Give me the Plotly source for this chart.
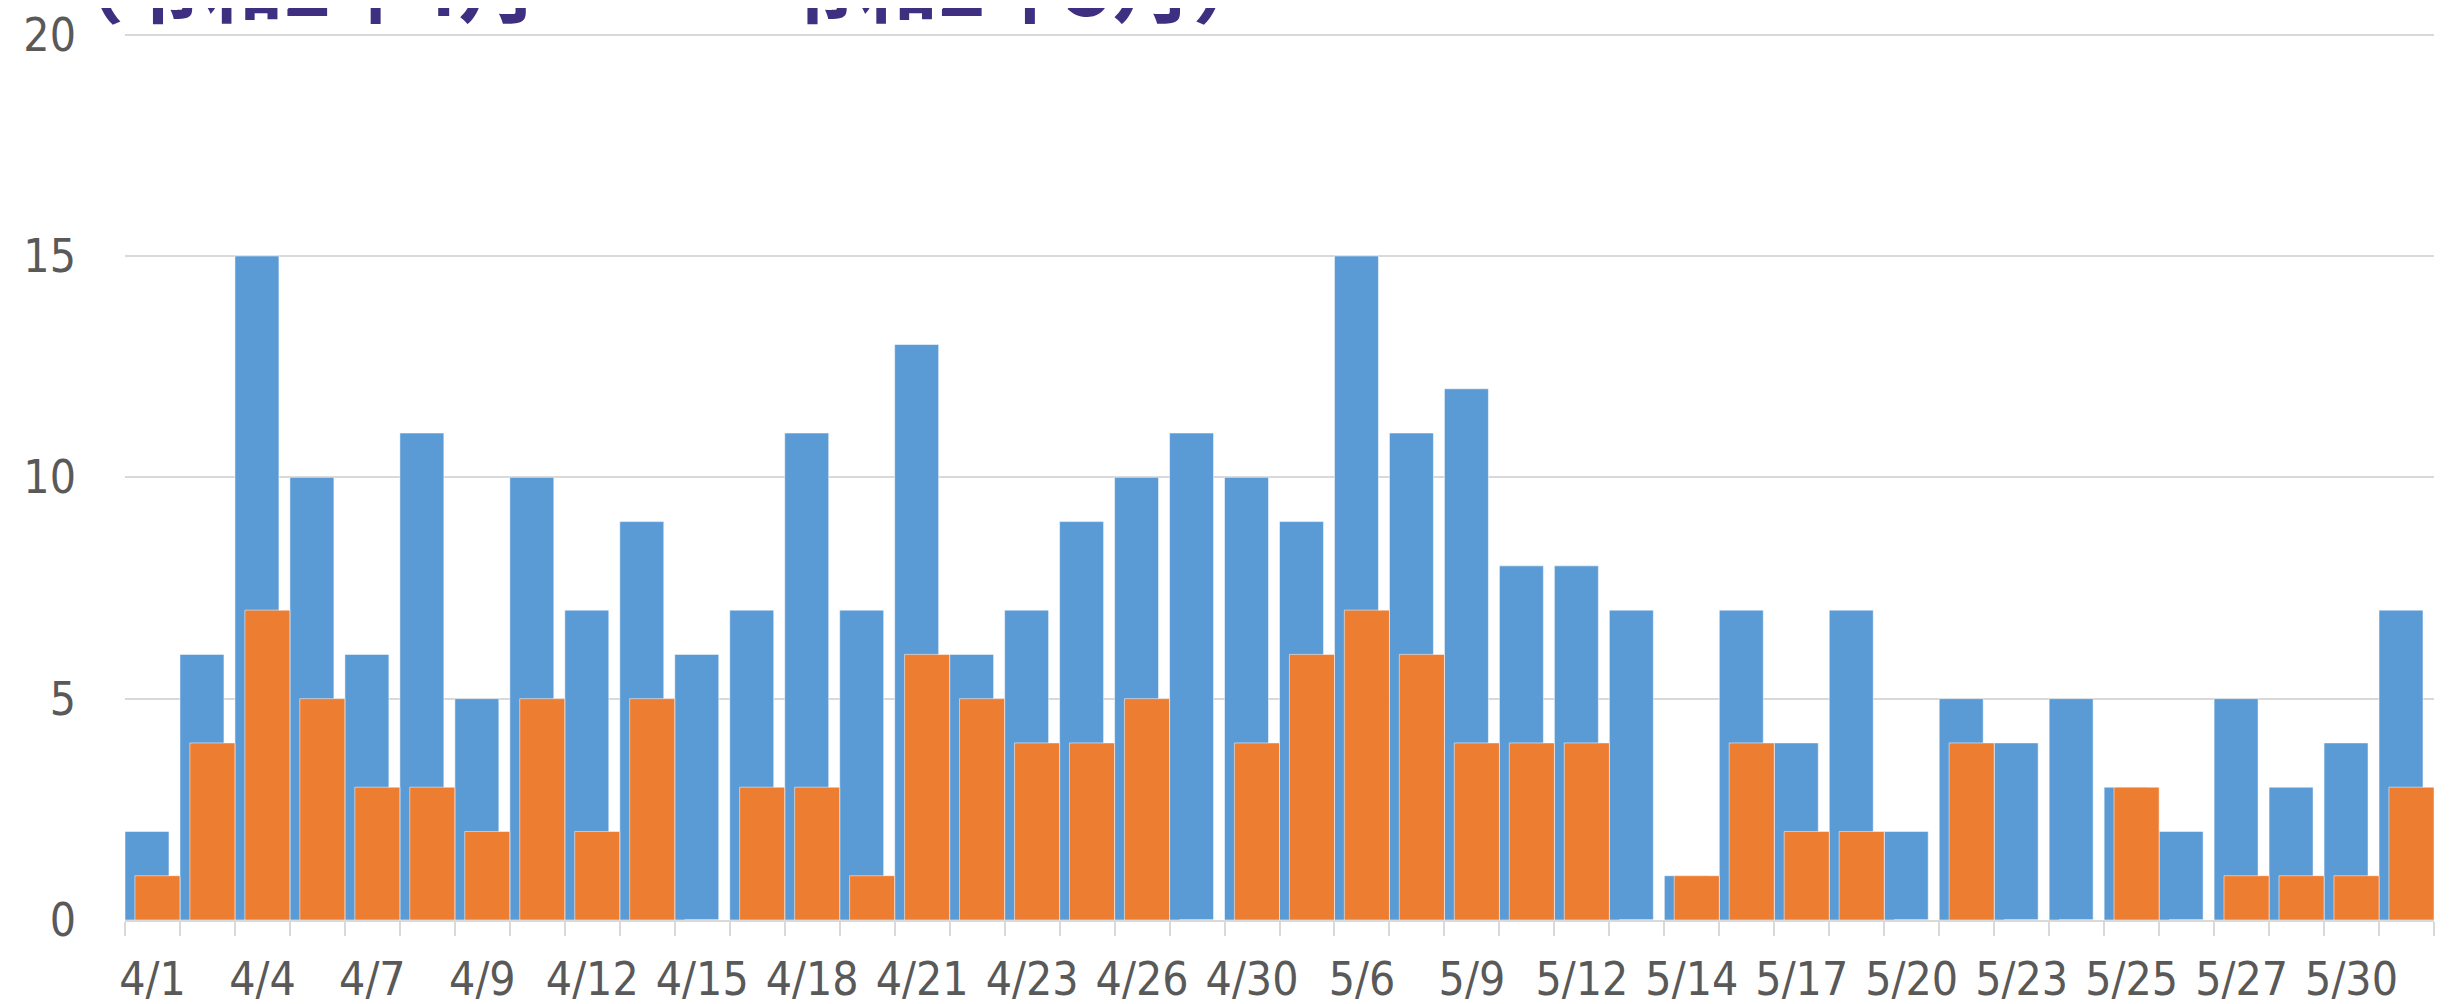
import plotly.graph_objects as go

# ---- data ----
dates = ["4/1", "4/2", "4/4", "4/6", "4/7", "4/8", "4/9", "4/10", "4/12", "4/14",
         "4/15", "4/16", "4/18", "4/20", "4/21", "4/22", "4/23", "4/24", "4/26", "4/28",
         "4/30", "5/1", "5/6", "5/7", "5/9", "5/11", "5/12", "5/13", "5/14", "5/16",
         "5/17", "5/19", "5/20", "5/22", "5/23", "5/24", "5/25", "5/26", "5/27", "5/29",
         "5/30", "5/31"]
series_blue = [2, 6, 15, 10, 6, 11, 5, 10, 7, 9,
               6, 7, 11, 7, 13, 6, 7, 9, 10, 11,
               10, 9, 15, 11, 12, 8, 8, 7, 1, 7,
               4, 7, 2, 5, 4, 5, 3, 2, 5, 3,
               4, 7]
series_orange = [1, 4, 7, 5, 3, 3, 2, 5, 2, 5,
                 0, 3, 3, 1, 6, 5, 4, 4, 5, 0,
                 4, 6, 7, 6, 4, 4, 4, 0, 1, 4,
                 2, 2, 0, 4, 0, 0, 3, 0, 1, 1,
                 1, 3]
y_ticks = [0, 5, 10, 15, 20]
title_text = "（令和2年4月～　　令和2年5月）"

x_pos = list(range(len(dates)))
tick_vals = x_pos[::2]
tick_text = dates[::2]

BLUE = "#5B9BD5"
ORANGE = "#ED7D31"
GRID = "#D9D9D9"
TXT = "#595959"
FONT = "DejaVu Sans Condensed, DejaVu Sans, sans-serif"

W, H = 2441, 996
L, R, T, B = 117, 15, 24, 84
plot_w = W - L - R

fig = go.Figure()
fig.add_trace(go.Bar(
    x=x_pos, y=series_blue, width=0.8, offset=-0.5,
    marker=dict(color=BLUE, line=dict(color="rgba(255,255,255,0.5)", width=1)),
    showlegend=False, hoverinfo="skip"))
fig.add_trace(go.Bar(
    x=x_pos, y=series_orange, width=0.82, offset=-0.32,
    marker=dict(color=ORANGE, line=dict(color="rgba(255,255,255,0.5)", width=1)),
    showlegend=False, hoverinfo="skip"))

fig.update_layout(
    width=W, height=H,
    margin=dict(l=L, r=R, t=T, b=B, autoexpand=False),
    paper_bgcolor="white", plot_bgcolor="white",
    barmode="overlay",
    xaxis=dict(
        range=[-0.5, len(dates) - 0.5], automargin=False,
        tickmode="array", tickvals=tick_vals, ticktext=tick_text,
        ticks="", showgrid=False, zeroline=False,
        showline=True, linecolor=GRID, linewidth=2,
        tickfont=dict(family=FONT, size=46, color=TXT),
        ticklabelstandoff=18, ticklabeloverflow="allow",
        minor=dict(ticks="outside", ticklen=14, tickcolor=GRID, tickwidth=2,
                   tick0=-0.5, dtick=1, showgrid=False),
    ),
    yaxis=dict(
        range=[0, 20.06], automargin=False, tickmode="array", tickvals=y_ticks,
        showgrid=True, gridcolor=GRID, gridwidth=2,
        zeroline=False, showline=False, ticks="",
        tickfont=dict(family=FONT, size=46, color=TXT),
        ticklabelstandoff=48, ticklabeloverflow="allow",
    ),
    annotations=[dict(
        text=title_text, xref="paper", yref="paper",
        x=(34 - L) / plot_w, y=1, xanchor="left", yanchor="bottom", yshift=-9,
        showarrow=False,
        font=dict(family="Noto Sans CJK JP", size=80, color="#3F2F80", weight="bold"),
    )],
)

fig.write_html("out.html")
